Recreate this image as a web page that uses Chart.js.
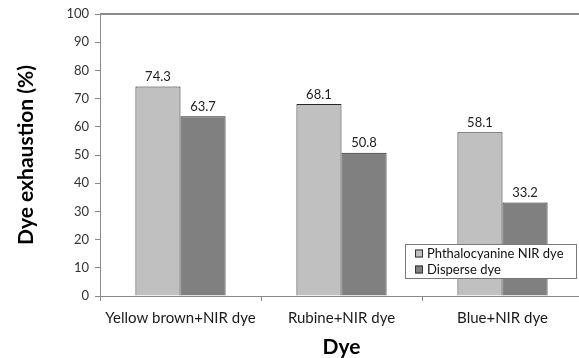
<!DOCTYPE html>
<html>
<head>
<meta charset="utf-8">
<script src="https://cdn.jsdelivr.net/npm/chart.js@4/dist/chart.umd.min.js"></script>
<style>
  html, body { margin: 0; padding: 0; background: #fff; overflow: hidden; }
  #wrap { position: relative; width: 590px; height: 358px; }
</style>
</head>
<body>
<div id="wrap"><canvas id="c" width="590" height="358"></canvas></div>
<script>
// Dye exhaustion per dye combination
const categories = ['Yellow brown+NIR dye', 'Rubine+NIR dye', 'Blue+NIR dye'];
const seriesNames = ['Phthalocyanine NIR dye', 'Disperse dye'];
const phthalocyanineValues = [74.3, 68.1, 58.1];
const disperseValues = [63.7, 50.8, 33.2];
const yTickValues = [0, 10, 20, 30, 40, 50, 60, 70, 80, 90, 100];

const FONT = 'Lato, "Open Sans", sans-serif';
const AXIS_GRAY = '#8a8a8a';

// Draws the value above every bar
const valueLabels = {
  id: 'valueLabels',
  afterDatasetsDraw(chart) {
    const ctx = chart.ctx;
    ctx.save();
    ctx.font = '13px ' + FONT;
    ctx.fillStyle = '#222';
    ctx.textAlign = 'center';
    ctx.textBaseline = 'bottom';
    chart.data.datasets.forEach((ds, i) => {
      chart.getDatasetMeta(i).data.forEach((bar, j) => {
        ctx.fillText(ds.data[j].toFixed(1), bar.x, bar.y - 3);
      });
    });
    ctx.restore();
  }
};

// Top edge of the plot frame
const topFrame = {
  id: 'topFrame',
  afterDraw(chart) {
    const { ctx, chartArea } = chart;
    ctx.save();
    ctx.strokeStyle = AXIS_GRAY;
    ctx.lineWidth = 2;
    ctx.beginPath();
    ctx.moveTo(chartArea.left, chartArea.top);
    ctx.lineTo(chart.width, chartArea.top);
    ctx.stroke();
    ctx.restore();
  }
};

// Boxed legend inside the lower right of the plot
const boxLegend = {
  id: 'boxLegend',
  afterDraw(chart) {
    const { ctx, chartArea } = chart;
    const w = 171, h = 34;
    const x = chartArea.right - 7 - w;
    const y = chartArea.bottom - 18 - h;
    ctx.save();
    ctx.fillStyle = '#fff';
    ctx.fillRect(x, y, w, h);
    ctx.strokeStyle = '#7a7a7a';
    ctx.lineWidth = 1;
    ctx.strokeRect(x + 0.5, y + 0.5, w, h);
    ctx.font = '13px ' + FONT;
    ctx.textBaseline = 'middle';
    ctx.textAlign = 'left';
    chart.data.datasets.forEach((ds, i) => {
      const cy = y + 9.5 + i * 16;
      ctx.fillStyle = ds.backgroundColor;
      ctx.fillRect(x + 10, cy - 4, 8, 8);
      ctx.strokeStyle = '#333';
      ctx.strokeRect(x + 10.5, cy - 3.5, 7, 7);
      ctx.fillStyle = '#111';
      ctx.fillText(ds.label, x + 22, cy);
    });
    ctx.restore();
  }
};

new Chart(document.getElementById('c'), {
  type: 'bar',
  data: {
    labels: categories,
    datasets: [
      {
        label: seriesNames[0],
        data: phthalocyanineValues,
        backgroundColor: '#c0c0c0',
        borderColor: '#262626',
        borderWidth: 1,
        categoryPercentage: 0.56,
        barPercentage: 1.0
      },
      {
        label: seriesNames[1],
        data: disperseValues,
        backgroundColor: '#808080',
        borderColor: '#262626',
        borderWidth: 1,
        categoryPercentage: 0.56,
        barPercentage: 1.0
      }
    ]
  },
  options: {
    responsive: false,
    animation: false,
    layout: { padding: { top: 14, right: 7, left: 0, bottom: 0 } },
    plugins: {
      legend: { display: false },
      tooltip: { enabled: false }
    },
    scales: {
      x: {
        grid: {
          display: true,
          offset: true,
          drawOnChartArea: false,
          drawTicks: true,
          tickLength: 5,
          color: AXIS_GRAY
        },
        border: { display: true, color: AXIS_GRAY, width: 1 },
        ticks: {
          font: { family: FONT, size: 15 },
          color: '#1a1a1a',
          padding: 8,
          maxRotation: 0
        },
        title: {
          display: true,
          text: 'Dye',
          font: { family: FONT, size: 21, weight: 'bold', lineHeight: 1.0 },
          color: '#000',
          padding: { top: 0, bottom: 0 }
        },
        afterFit(scale) { scale.height = 62; }
      },
      y: {
        min: 0,
        max: 100,
        afterBuildTicks(scale) {
          scale.ticks = yTickValues.map(v => ({ value: v }));
        },
        grid: {
          display: true,
          drawOnChartArea: false,
          drawTicks: true,
          tickLength: 5,
          color: AXIS_GRAY
        },
        border: { display: true, color: AXIS_GRAY, width: 1 },
        ticks: {
          font: { family: FONT, size: 13 },
          color: '#333',
          padding: 6
        },
        title: {
          display: true,
          text: 'Dye exhaustion (%)',
          font: { family: FONT, size: 21, weight: 'bold', lineHeight: 1.2 },
          color: '#000',
          padding: { top: 14, bottom: 0 }
        },
        afterFit(scale) { scale.width = 100; }
      }
    }
  },
  plugins: [valueLabels, topFrame, boxLegend]
});
</script>
</body>
</html>
